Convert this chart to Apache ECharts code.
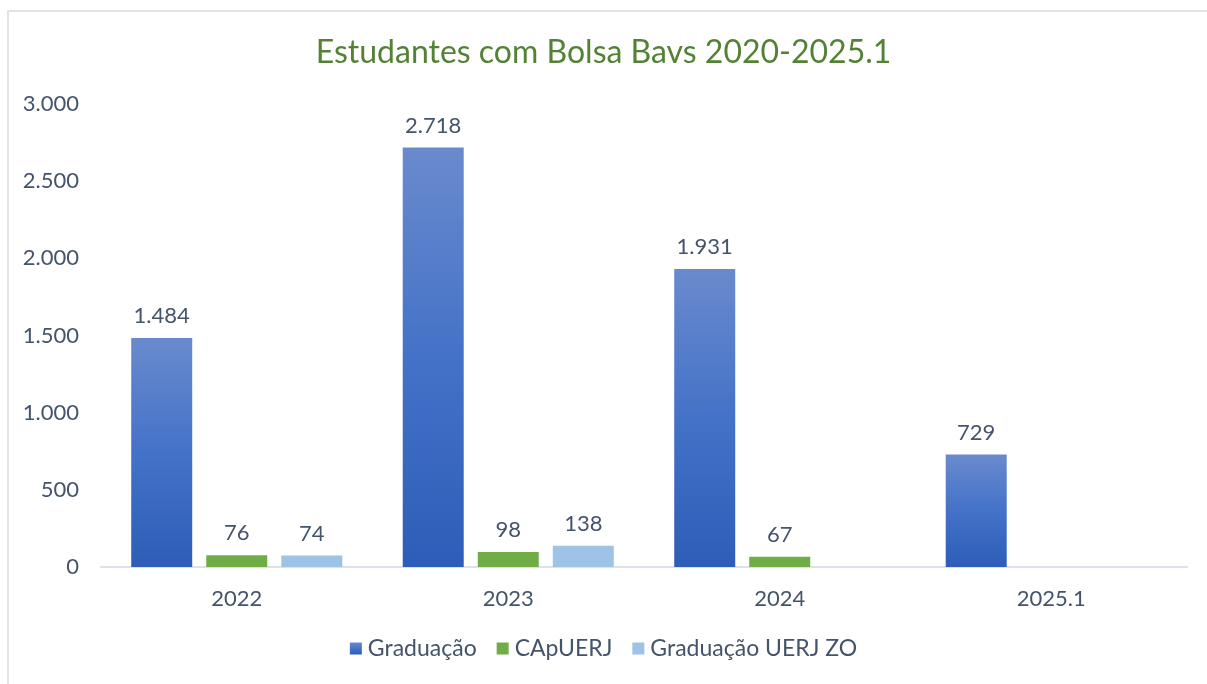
<!DOCTYPE html>
<html>
<head>
<meta charset="utf-8">
<script src="https://cdn.jsdelivr.net/npm/echarts@6/dist/echarts.min.js"></script>
<style>
  html, body { margin: 0; padding: 0; background: #fff; }
  .frame {
    position: absolute; left: 7px; top: 10px;
    width: 1210px; height: 690px;
    border-left: 2px solid #dfe3ea; border-top: 2px solid #dfe3ea;
    box-sizing: border-box;
  }
  #chart { position: absolute; left: 0; top: 0; width: 1207px; height: 684px; }
</style>
</head>
<body>
<div class="frame"></div>
<div id="chart"></div>
<script>
// dados
var anos = ["2022", "2023", "2024", "2025.1"];
var graduacao = [1484, 2718, 1931, 729];
var capuerj = [76, 98, 67, "-"];
var graduacaoZO = [74, 138, "-", "-"];

var corTexto = "#44546A";
var fonte = "Lato";

function ptBR(v) {
  return String(v).replace(/\B(?=(\d{3})+(?!\d))/g, ".");
}

var rotulo = {
  show: true,
  position: "top",
  distance: 11,
  color: corTexto,
  fontFamily: fonte,
  fontSize: 22,
  formatter: function (p) { return ptBR(p.value); }
};

var myChart = echarts.init(document.getElementById("chart"));
myChart.setOption({
  animation: false,
  title: {
    text: "Estudantes com Bolsa Bavs 2020-2025.1",
    left: "center",
    top: 32,
    textStyle: { color: "#548235", fontFamily: fonte, fontSize: 32, fontWeight: "normal" }
  },
  legend: {
    bottom: 19,
    left: "center",
    itemWidth: 12,
    itemHeight: 12,
    itemGap: 20,
    icon: "rect",
    textStyle: { color: corTexto, fontFamily: fonte, fontSize: 23, padding: [0, 0, 0, 1] },
    data: ["Graduação", "CApUERJ", "Graduação UERJ ZO"]
  },
  grid: { left: 101, right: 20, top: 104, bottom: 117 },
  xAxis: {
    type: "category",
    data: anos,
    axisTick: { show: false },
    axisLine: { lineStyle: { color: "#dde2ea", width: 2 } },
    axisLabel: { color: corTexto, fontFamily: fonte, fontSize: 22, margin: 21 }
  },
  yAxis: {
    type: "value",
    min: 0,
    max: 3000,
    interval: 500,
    splitLine: { show: false },
    axisLine: { show: false },
    axisTick: { show: false },
    axisLabel: {
      color: corTexto, fontFamily: fonte, fontSize: 22, margin: 22,
      formatter: function (v) { return ptBR(v); }
    }
  },
  series: [
    {
      name: "Graduação",
      type: "bar",
      barWidth: 61,
      barGap: "23%",
      data: graduacao,
      label: rotulo,
      itemStyle: {
        color: new echarts.graphic.LinearGradient(0, 0, 0, 1, [
          { offset: 0, color: "#6a8acd" },
          { offset: 0.5, color: "#4472c8" },
          { offset: 1, color: "#2d5db8" }
        ])
      }
    },
    {
      name: "CApUERJ",
      type: "bar",
      barWidth: 61,
      data: capuerj,
      label: rotulo,
      itemStyle: { color: "#70ad47" }
    },
    {
      name: "Graduação UERJ ZO",
      type: "bar",
      barWidth: 61,
      data: graduacaoZO,
      label: rotulo,
      itemStyle: { color: "#9dc3e6" }
    }
  ]
});
</script>
</body>
</html>
